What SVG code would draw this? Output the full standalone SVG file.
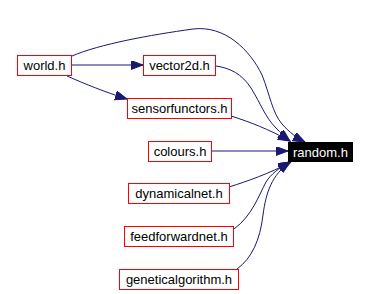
<svg xmlns="http://www.w3.org/2000/svg" width="369" height="294" viewBox="0 0 369 294">
  <style>
    .node rect { fill: #ffffff; stroke: #ff0000; stroke-width: 1; }
    .node text { font-family: "Liberation Sans", Arial, sans-serif; font-size: 13px; fill: #000000; text-anchor: middle; }
    #random rect { fill: #000000; stroke: #000000; }
    #random text { fill: #ffffff; }
    .edge { fill: none; stroke: #191970; stroke-width: 1; marker-end: url(#arrow); }
  </style>
  <defs>
    <marker id="arrow" markerUnits="userSpaceOnUse" markerWidth="13" markerHeight="10" refX="12" refY="4.5" orient="auto">
      <path d="M0,0 L12,4.5 L0,9 z" fill="#191970" stroke="#191970" stroke-width="1"/>
    </marker>
  </defs>
  <rect width="369" height="294" fill="#ffffff"/>

  <!-- include dependencies -->
  <g id="edges">
    <path class="edge" d="M72,65 L143,65"/>
    <path class="edge" d="M67,76 C85,84 105,92 127,99"/>
    <path class="edge" d="M72,56 C100,44 150,35 193,29 C225,25 250,50 262,75 C270,95 272,112 282,124 C290,133 297,138 305,142"/>
    <path class="edge" d="M216,66 C230,68 242,74 251,88 C261,104 265,117 276,128 C281,133 285,137 290,141"/>
    <path class="edge" d="M231,116 C250,122 268,129 290,141"/>
    <path class="edge" d="M212,151 L288,151"/>
    <path class="edge" d="M229,187 C248,181 268,174 291,162"/>
    <path class="edge" d="M234,229 C252,216 259,195 266,182 C271,174 279,168 290,162"/>
    <path class="edge" d="M237,269 C252,258 260,240 263,215 C266,192 272,175 290,162"/>
  </g>

  <g id="world" class="node">
    <rect x="17.5" y="55.5" width="54" height="20"/>
    <text x="44.5" y="70">world.h</text>
  </g>
  <g id="vector2d" class="node">
    <rect x="143.5" y="55.5" width="72" height="20"/>
    <text x="179.5" y="70">vector2d.h</text>
  </g>
  <g id="sensorfunctors" class="node">
    <rect x="127.5" y="98.5" width="104" height="20"/>
    <text x="179.5" y="113">sensorfunctors.h</text>
  </g>
  <g id="colours" class="node">
    <rect x="148.5" y="141.5" width="63" height="20"/>
    <text x="180" y="156">colours.h</text>
  </g>
  <g id="random" class="node">
    <rect x="288.5" y="142.5" width="64" height="19"/>
    <text x="320.5" y="156.5">random.h</text>
  </g>
  <g id="dynamicalnet" class="node">
    <rect x="128.5" y="183.5" width="101" height="20"/>
    <text x="179" y="198">dynamicalnet.h</text>
  </g>
  <g id="feedforwardnet" class="node">
    <rect x="124.5" y="226.5" width="109" height="20"/>
    <text x="179" y="241">feedforwardnet.h</text>
  </g>
  <g id="geneticalgorithm" class="node">
    <rect x="119.5" y="269.5" width="119" height="20"/>
    <text x="179" y="284">geneticalgorithm.h</text>
  </g>
</svg>
